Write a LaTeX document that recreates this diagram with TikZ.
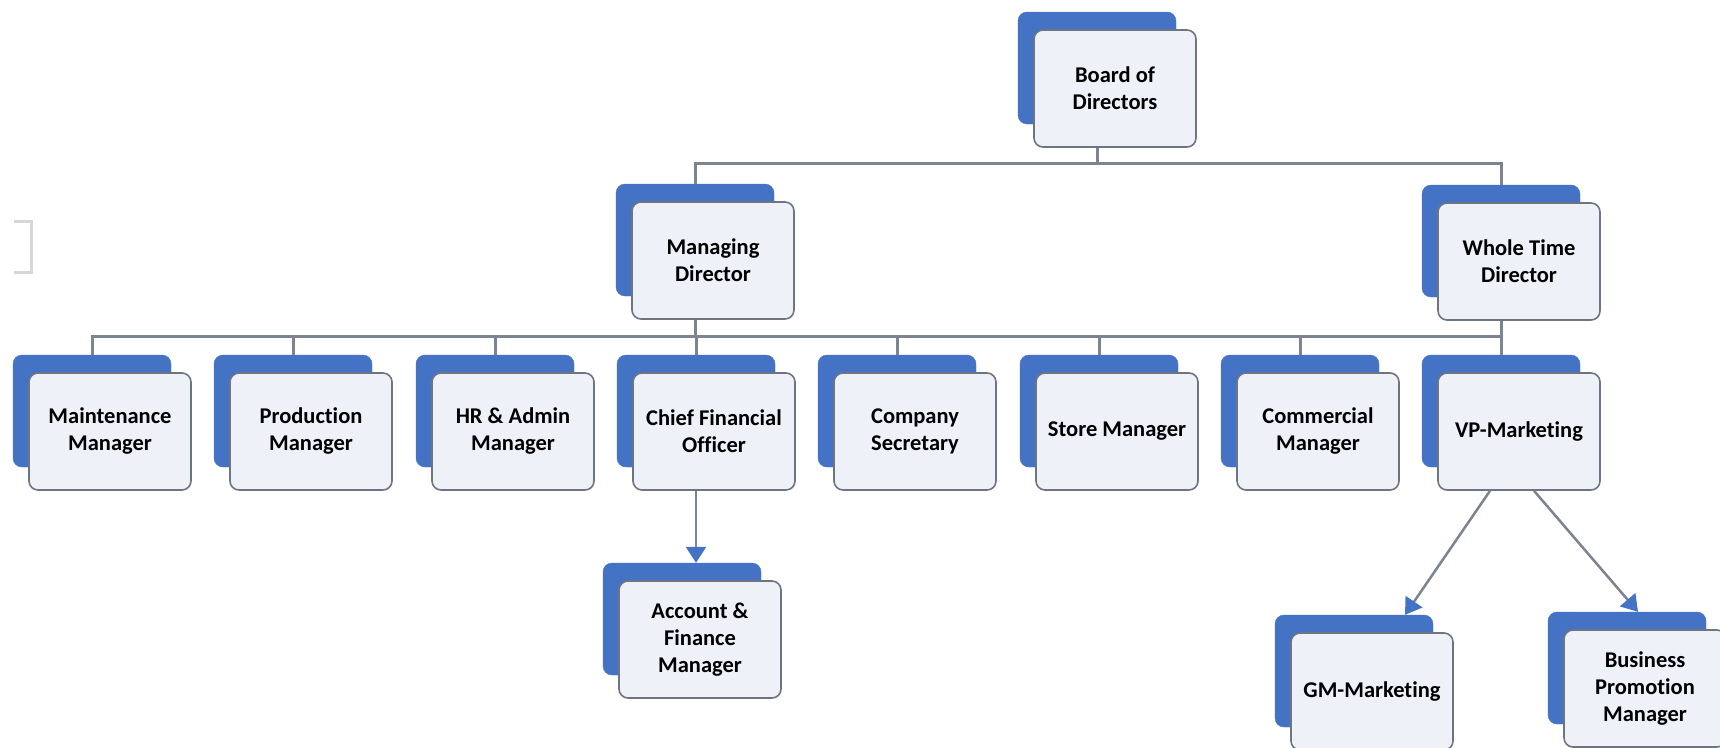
\documentclass[tikz,border=0pt]{standalone}
\usepackage{fontspec}
\setmainfont{Carlito}[Ligatures=NoCommon]
\usetikzlibrary{arrows.meta,calc}
\definecolor{boxblue}{HTML}{4472C4}
\definecolor{boxfill}{HTML}{EEF1F8}
\definecolor{boxedge}{HTML}{6E7580}
\definecolor{linegray}{HTML}{7C8490}
\definecolor{faintgray}{HTML}{D6D6D6}
\tikzset{
  backbox/.style={fill=boxblue, draw=boxblue, rounded corners=9pt, minimum width=158pt, minimum height=112pt, inner sep=0pt},
  frontbox/.style={fill=boxfill, draw=boxedge, line width=1.6pt, rounded corners=9pt, minimum width=162pt, minimum height=117pt, inner sep=2pt, align=center, text=black, font=\fontsize{22.5}{27}\selectfont\bfseries},
  conn/.style={draw=linegray, line width=3pt},
  arr/.style={draw=linegray, line width=2.5pt, -{Triangle[width=20pt,length=16pt,color=boxblue]}}
}
\newcommand\orgbox[4]{%
  \node[backbox] (#1b) at (#2+79,#3+56) {};
  \node[frontbox] (#1) at (#2+97,#3+76.5) {#4};}
\begin{document}
\begin{tikzpicture}[x=1pt,y=-1pt]
\useasboundingbox[fill=white] (0,0) rectangle (1720,747);
% faint stray bracket
\draw[faintgray, line width=3pt] (14,221) -- (31,221) -- (31,272) -- (14,272);
% boxes
\orgbox{board}{1018}{12}{Board of\\Directors}
\orgbox{md}{616}{184}{Managing\\Director}
\orgbox{wtd}{1422}{185}{Whole Time\\Director}
\orgbox{mm}{13}{355}{Maintenance\\Manager}
\orgbox{pm}{214}{355}{Production\\Manager}
\orgbox{hr}{416}{355}{HR \& Admin\\Manager}
\orgbox{cfo}{617}{355}{Chief Financial\\Officer}
\orgbox{cs}{818}{355}{Company\\Secretary}
\orgbox{sm}{1020}{355}{Store Manager}
\orgbox{cm}{1221}{355}{Commercial\\Manager}
\orgbox{vp}{1422}{355}{VP-Marketing}
\orgbox{afm}{603}{563}{Account \&\\Finance\\Manager}
\orgbox{gm}{1275}{615}{GM-Marketing}
\orgbox{bpm}{1548}{612}{Business\\Promotion\\Manager}
% level 1 connectors
\draw[conn] (board.south -| boardb.north) -- ++(0,16) coordinate (j1);
\draw[conn] (mdb.north) |- (j1) -| (wtdb.north);
% level 2 connectors
\draw[conn] (md.south -| mdb.north) -- ++(0,17) coordinate (j2);
\draw[conn] (mmb.north) |- (j2) -| (vpb.north);
\draw[conn] (wtd.south -| wtdb.north) -- (wtdb.north |- j2);
\foreach \n in {pm,hr,cfo,cs,sm,cm}{\draw[conn] (\n b.north) -- (\n b.north |- j2);}
% arrows
\draw[arr] (cfo.south -| cfob.north) -- (cfob.north |- afmb.north);
\draw[arr] ($(vp.south)+(-29,0)$) -- ($(gmb.north)+(51,0)$);
\draw[arr] ($(vp.south)+(15,0)$) -- ($(bpmb.north)+(11,0)$);
\end{tikzpicture}
\end{document}
